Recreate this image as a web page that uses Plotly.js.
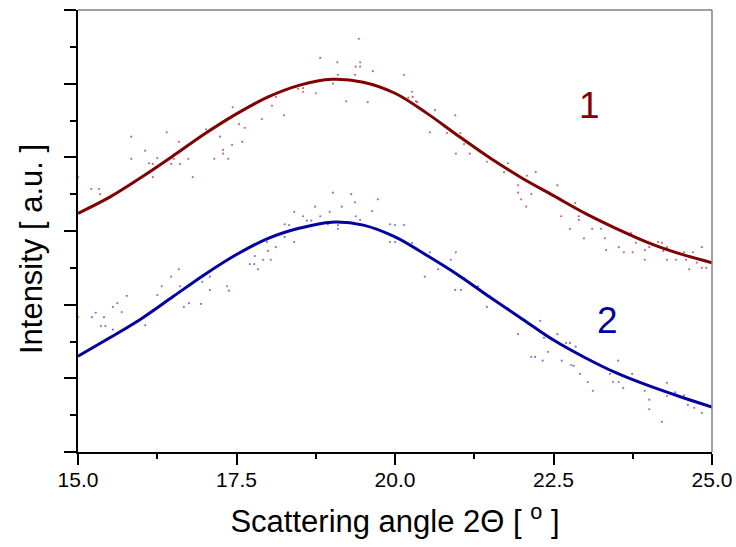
<!DOCTYPE html>
<html>
<head>
<meta charset="utf-8">
<script src="https://cdn.plot.ly/plotly-3.0.1.min.js"></script>
<style>
  html, body { margin: 0; padding: 0; background: #fff; }
  #chart { width: 736px; height: 547px; }
</style>
</head>
<body>
<div id="chart"></div>
<script>
// Fitted profiles (smooth curves), sampled every 0.5 degree
const fitAngle = [15.0, 15.5, 16.0, 16.5, 17.0, 17.5, 18.0, 18.5, 19.0, 19.5, 20.0,
                  20.5, 21.0, 21.5, 22.0, 22.5, 23.0, 23.5, 24.0, 24.5, 25.0];
const fit1 = [3.24, 3.46, 3.73, 4.02, 4.32, 4.59, 4.82, 4.98, 5.06, 5.02, 4.87,
              4.60, 4.29, 3.99, 3.72, 3.48, 3.24, 3.03, 2.84, 2.69, 2.57];
const fit2 = [1.30, 1.55, 1.81, 2.11, 2.41, 2.68, 2.90, 3.04, 3.12, 3.08, 2.92,
              2.67, 2.40, 2.10, 1.81, 1.52, 1.28, 1.07, 0.90, 0.75, 0.61];

// Measured points, sample 1
const meas1X = [15.00, 15.21, 15.33, 15.35, 15.84, 15.84, 16.06, 16.12, 16.18, 16.18,
  16.25, 16.40, 16.47, 16.51, 16.59, 16.61, 16.74, 16.81, 17.02, 17.15, 17.24, 17.29,
  17.29, 17.37, 17.43, 17.44, 17.54, 17.63, 17.59, 17.90, 18.06, 18.12, 18.25, 18.47,
  18.55, 18.55, 18.75, 18.82, 19.02, 19.09, 19.10, 19.23, 19.37, 19.38, 19.43, 19.45,
  19.45, 19.57, 19.65, 20.00, 20.14, 20.21, 20.27, 20.28, 20.33, 20.35, 20.55, 20.63,
  20.82, 20.95, 20.96, 21.03, 21.09, 21.18, 21.45, 21.72, 21.78, 21.94, 21.94, 21.99,
  22.07, 22.08, 22.15, 22.22, 22.56, 22.62, 22.76, 22.84, 22.90, 22.90, 22.98, 23.11,
  23.25, 23.31, 23.33, 23.52, 23.53, 23.61, 23.72, 23.75, 23.80, 23.94, 23.94, 24.01,
  24.15, 24.21, 24.23, 24.29, 24.29, 24.43, 24.56, 24.59, 24.64, 24.70, 24.76, 24.84,
  24.84, 24.91];
const meas1Y = [3.73, 3.57, 3.57, 3.50, 4.28, 3.98, 4.09, 3.92, 3.91, 3.73,
  3.99, 4.34, 3.91, 3.98, 4.21, 3.91, 3.98, 3.73, 4.38, 3.98, 4.28, 4.05,
  4.10, 3.98, 4.17, 4.68, 4.45, 4.40, 4.21, 4.52, 4.70, 4.82, 4.57, 4.93,
  4.94, 4.89, 4.87, 5.35, 5.00, 5.29, 5.12, 4.76, 5.12, 5.23, 5.61, 5.29,
  5.23, 4.75, 5.17, 4.87, 5.12, 4.81, 4.89, 4.82, 4.76, 4.75, 4.34, 4.64,
  4.33, 4.57, 4.05, 4.33, 4.18, 4.05, 3.94, 3.80, 3.92, 3.62, 3.52, 3.43,
  3.33, 3.75, 3.50, 3.80, 3.62, 3.20, 3.03, 3.38, 3.20, 3.15, 2.90, 3.03,
  3.03, 2.90, 2.74, 3.01, 2.78, 2.71, 2.97, 2.71, 2.84, 2.74, 2.61, 2.78,
  2.85, 2.84, 2.73, 2.78, 2.61, 2.61, 2.71, 2.61, 2.48, 2.71, 2.57, 2.78,
  2.50, 2.50];

// Measured points, sample 2
const meas2X = [15.00, 15.22, 15.28, 15.36, 15.41, 15.43, 15.55, 15.55, 15.62, 15.69,
  15.77, 16.06, 16.25, 16.32, 16.47, 16.59, 16.61, 16.67, 16.75, 16.94, 16.96, 17.08,
  17.08, 17.35, 17.38, 17.43, 17.71, 17.79, 17.78, 17.84, 17.92, 17.98, 18.00, 18.04,
  18.12, 18.26, 18.26, 18.33, 18.41, 18.41, 18.55, 18.61, 18.68, 18.74, 18.82, 18.94,
  18.97, 19.02, 19.10, 19.10, 19.16, 19.31, 19.37, 19.38, 19.45, 19.64, 19.73, 19.92,
  19.92, 20.00, 20.00, 20.14, 20.27, 20.47, 20.55, 20.68, 20.88, 20.96, 20.95, 21.04,
  21.09, 21.31, 21.45, 21.78, 21.94, 22.15, 22.21, 22.29, 22.33, 22.35, 22.41, 22.56,
  22.63, 22.70, 22.76, 22.78, 22.82, 22.85, 22.92, 23.04, 23.12, 23.39, 23.44, 23.52,
  23.53, 23.60, 23.74, 23.94, 24.01, 24.01, 24.21, 24.29, 24.29, 24.42, 24.56, 24.62,
  24.70, 24.72, 24.84];
const meas2Y = [1.83, 1.83, 1.89, 1.71, 1.83, 1.71, 1.66, 1.97, 2.02, 1.90,
  2.12, 1.72, 2.13, 2.25, 2.38, 2.48, 2.25, 1.97, 2.02, 2.01, 2.31, 2.38,
  2.20, 2.25, 2.19, 2.65, 2.55, 2.66, 2.55, 2.48, 2.61, 2.85, 2.73, 2.61,
  2.78, 2.92, 3.09, 3.08, 3.26, 2.85, 3.20, 3.14, 3.14, 3.33, 3.20, 3.09,
  3.26, 3.52, 3.08, 3.03, 3.33, 3.50, 3.39, 3.20, 3.15, 3.27, 3.43, 3.09,
  2.85, 3.08, 2.85, 3.08, 2.84, 2.38, 2.71, 2.48, 2.61, 2.71, 2.20, 2.20,
  2.36, 2.25, 1.97, 1.95, 1.60, 1.29, 1.29, 1.78, 1.24, 1.55, 1.36, 1.60,
  1.24, 1.48, 1.48, 1.18, 1.17, 1.43, 1.06, 0.95, 0.83, 1.06, 0.95, 1.24,
  0.95, 0.87, 1.06, 0.83, 0.71, 0.58, 0.41, 0.94, 0.76, 0.81, 0.77, 0.64,
  0.69, 0.60, 0.53];

const curveLabels = ['1', '2'];
const labelAngle = [23.07, 23.35];
const labelLevel = [4.71, 1.78];

const RED = '#800000';
const BLUE = '#0000a0';
const FONT = 'Liberation Sans, Arial, sans-serif';

const traces = [
  { x: meas1X, y: meas1Y, mode: 'markers', type: 'scatter', hoverinfo: 'skip',
    marker: { size: 2.2, color: 'rgba(160,30,40,0.65)' } },
  { x: meas2X, y: meas2Y, mode: 'markers', type: 'scatter', hoverinfo: 'skip',
    marker: { size: 2.2, color: 'rgba(50,50,200,0.65)' } },
  { x: fitAngle, y: fit1, mode: 'lines', type: 'scatter',
    line: { color: RED, width: 3, shape: 'spline', smoothing: 1 } },
  { x: fitAngle, y: fit2, mode: 'lines', type: 'scatter',
    line: { color: BLUE, width: 3, shape: 'spline', smoothing: 1 } }
];

const layout = {
  width: 736, height: 547,
  margin: { l: 78, r: 24, t: 10, b: 95 },
  paper_bgcolor: '#fff', plot_bgcolor: '#fff',
  showlegend: false,
  font: { family: FONT, color: '#000' },
  xaxis: {
    range: [15, 25], dtick: 2.5, tick0: 15, tickformat: '.1f',
    ticks: 'outside', ticklen: 11, tickwidth: 2, tickcolor: '#000',
    ticklabelstandoff: -3,
    minor: { dtick: 1.25, ticks: 'outside', ticklen: 5, tickwidth: 2, tickcolor: '#000' },
    showline: true, linecolor: '#000', linewidth: 2,
    showgrid: false, zeroline: false,
    tickfont: { size: 21, family: FONT },
    title: { text: 'Scattering angle 2\u0398 [ <sup>o</sup> ]', font: { size: 31, family: FONT }, standoff: 20 }
  },
  yaxis: {
    range: [0, 6], dtick: 1, tick0: 0,
    ticks: 'outside', ticklen: 12, tickwidth: 2, tickcolor: '#000',
    minor: { dtick: 0.5, ticks: 'outside', ticklen: 6, tickwidth: 2, tickcolor: '#000' },
    showticklabels: false,
    showline: true, linecolor: '#000', linewidth: 2,
    showgrid: false, zeroline: false
  },
  shapes: [
    { type: 'line', xref: 'paper', yref: 'paper', x0: 0, x1: 1, y0: 1, y1: 1,
      line: { color: '#808080', width: 1.5 } },
    { type: 'line', xref: 'paper', yref: 'paper', x0: 1, x1: 1, y0: 0, y1: 1,
      line: { color: '#808080', width: 1.5 } }
  ],
  annotations: [
    { xref: 'paper', yref: 'paper', x: -0.0742, y: 0.459, xanchor: 'center', yanchor: 'middle',
      text: 'Intensity [ a.u. ]', textangle: -90, showarrow: false,
      font: { size: 31, family: FONT, color: '#000' } }
  ].concat(curveLabels.map((t, i) => ({
    x: labelAngle[i], y: labelLevel[i], text: t, showarrow: false,
    font: { size: 37, family: FONT, color: i === 0 ? RED : BLUE }
  })))
};

Plotly.newPlot('chart', traces, layout, { staticPlot: true, displayModeBar: false });
</script>
</body>
</html>
